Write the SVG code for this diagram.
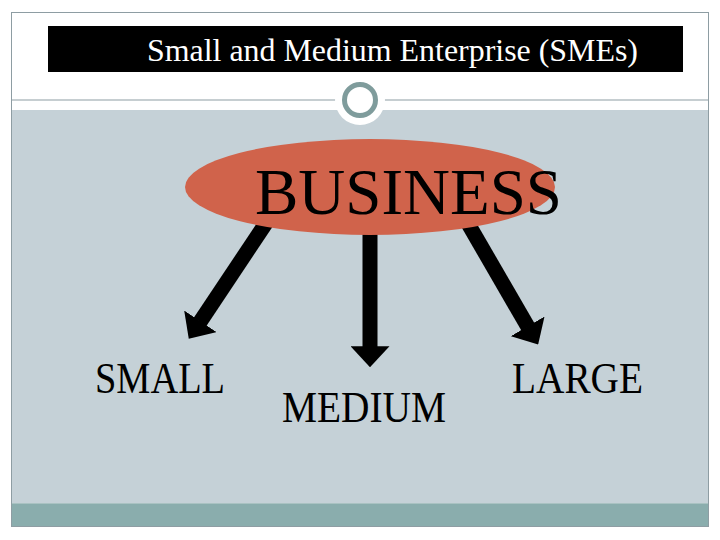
<svg xmlns="http://www.w3.org/2000/svg" width="720" height="540" viewBox="0 0 720 540">
<style>
.lbl{font-family:"Liberation Serif",Tinos,"Times New Roman",Times,serif;fill:#000}
.conn{stroke:#000;stroke-width:15;fill:none;marker-end:url(#ah)}
</style>
<defs>
<marker id="ah" markerUnits="strokeWidth" markerWidth="1.4" markerHeight="2.6" viewBox="0 0 14 26" refX="0.5" refY="13" orient="auto">
<path d="M0,0 L14,13 L0,26 Z" fill="#000"/>
</marker>
</defs>
<rect x="0" y="0" width="720" height="540" fill="#fff"/>
<g id="frame">
<rect x="11" y="110" width="698" height="393" fill="#C5D1D7"/>
<rect x="11" y="503" width="698" height="24" fill="#8AADAD"/>
<line x1="11" y1="503.5" x2="709" y2="503.5" stroke="#a9c2c2" stroke-width="1"/>
<rect x="11.5" y="12.5" width="697" height="514" fill="none" stroke="#8E9DA3" stroke-width="1"/>
<line x1="11" y1="100" x2="709" y2="100" stroke="#8E9DA3" stroke-width="1.2"/>
<circle cx="360" cy="100" r="25" fill="#fff"/>
<circle cx="360" cy="100" r="15.5" fill="#fff" stroke="#7F9C9C" stroke-width="5"/>
</g>
<g id="title">
<rect x="48" y="26" width="635" height="46" fill="#000"/>
<text class="lbl" x="147" y="60.5" font-size="32" style="fill:#fff" textLength="491" lengthAdjust="spacingAndGlyphs">Small and Medium Enterprise (SMEs)</text>
</g>
<g id="connectors">
<line class="conn" x1="268" y1="220" x2="200" y2="322"/>
<line class="conn" x1="370" y1="225" x2="370" y2="347"/>
<line class="conn" x1="466" y1="220" x2="528" y2="327"/>
</g>
<g id="business">
<ellipse cx="370" cy="187" rx="185" ry="48" fill="#D0634B"/>
<text class="lbl" x="255" y="214" font-size="65" textLength="307" lengthAdjust="spacingAndGlyphs">BUSINESS</text>
</g>
<g id="small">
<text class="lbl" x="95" y="392.5" font-size="44" textLength="130" lengthAdjust="spacingAndGlyphs">SMALL</text>
</g>
<g id="medium">
<text class="lbl" x="282" y="421.5" font-size="44" textLength="164" lengthAdjust="spacingAndGlyphs">MEDIUM</text>
</g>
<g id="large">
<text class="lbl" x="512" y="392.5" font-size="44" textLength="131" lengthAdjust="spacingAndGlyphs">LARGE</text>
</g>
</svg>
